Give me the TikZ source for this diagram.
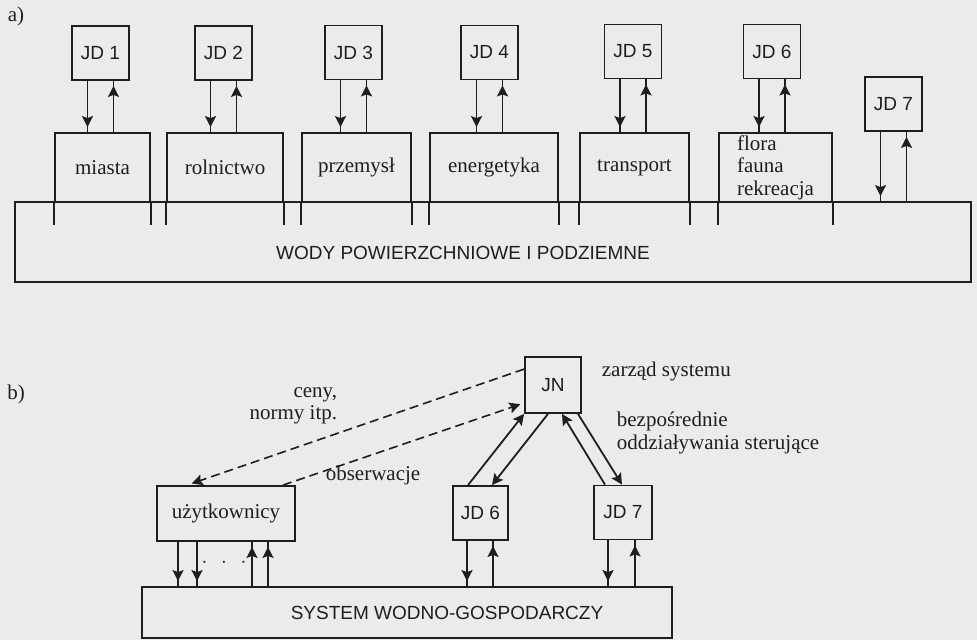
\documentclass[tikz,border=0pt]{standalone}
\usepackage{fontspec}
\setmainfont{Liberation Serif}
\setsansfont{Liberation Sans}
\usetikzlibrary{arrows.meta,decorations.markings,calc}
\definecolor{paper}{RGB}{235,235,233}
\definecolor{ink}{RGB}{30,30,30}
\newcommand{\sansfs}{\sffamily\fontsize{19}{22}\selectfont}
\newcommand{\seriffs}{\rmfamily\fontsize{21}{22.5}\selectfont}

\begin{document}
\begin{tikzpicture}[x=1pt, y=-1pt, color=ink, line width=1.8pt,
  >={Stealth[length=11pt,width=11pt,inset=2pt]},
  jd/.style={draw, inner sep=0pt, minimum width=57pt, minimum height=54pt, font=\sansfs},
  sector/.style={draw, inner sep=0pt, minimum height=69pt, font=\seriffs},
  big/.style={draw, inner sep=0pt},
  lbl/.style={inner sep=0pt, font=\seriffs},
  arr/.style={postaction={decorate}, decoration={markings, mark=at position -5pt with {\arrow{>}}}},
  dashln/.style={dash pattern=on 9pt off 5pt, line width=1.6pt}]
  \fill[paper] (0,0) rectangle (977,640);
  \useasboundingbox (0,0) rectangle (977,640);
  % a) users and their water bodies
  \node[lbl] (lbla) at (16,16) {a)};
  \node[jd] (jd1) at (100.5,53) {JD 1};
  \node[jd] (jd2) at (223.5,53) {JD 2};
  \node[jd] (jd3) at (353.5,52.5) {JD 3};
  \node[jd] (jd4) at (489.5,52.5) {JD 4};
  \node[jd] (jd5) at (633,51.5) {JD 5};
  \node[jd] (jd6) at (772,51.5) {JD 6};
  \node[jd] (jd7) at (893.5,104) {JD 7};
  \node[sector, minimum width=95pt]  (miasta) at (102.5,167.5) {miasta};
  \node[sector, minimum width=116pt] (rolnictwo) at (225,167.5) {rolnictwo};
  \node[sector, minimum width=109pt] (przemysl) at (356.5,167.5) {przemysł};
  \node[sector, minimum width=128pt] (energetyka) at (494,167.5) {energetyka};
  \node[sector, minimum width=109pt] (transport) at (634.5,167.5) {transport};
  \node[sector, minimum width=113pt, align=left] (flora) at (775.5,167.5) {flora\\fauna\\rekreacja};
  \node[big, minimum width=956pt, minimum height=80pt] (wody) at (493,242) {};
  \node[inner sep=0pt, font=\sansfs] (wodytxt) at (463,253) {WODY POWIERZCHNIOWE I PODZIEMNE};
  % sector sides run on into the water box
  \foreach \s in {miasta,rolnictwo,przemysl,energetyka,transport,flora}
    \draw (\s.south west) -- ++(0,22) (\s.south east) -- ++(0,22);
  \foreach \j/\s in {jd1/miasta,jd2/rolnictwo,jd3/przemysl,jd4/energetyka,jd5/transport,jd6/flora,jd7/wody} {
    \draw[arr] ([xshift=-13pt]\j.south) -- ([xshift=-13pt]\j.south |- \s.north);
    \draw[arr] ([xshift=13pt]\j.south |- \s.north) -- ([xshift=13pt]\j.south);
  }
  % b) system management
  \node[lbl] (lblb) at (16,394) {b)};
  \node[jd, minimum width=56pt, minimum height=56pt] (jn) at (553,385) {JN};
  \node[jd, minimum width=55pt] (jd6b) at (480.5,513) {JD 6};
  \node[jd, minimum width=58pt] (jd7b) at (623,512.5) {JD 7};
  \node[sector, minimum width=138pt, minimum height=55pt] (uzyt) at (226,513.5) {użytkownicy};
  \node[big, minimum width=530pt, minimum height=51pt] (swg) at (407,612.5) {};
  \node[inner sep=0pt, font=\sansfs] (swgtxt) at (447,613) {SYSTEM WODNO-GOSPODARCZY};
  \node[lbl, anchor=west] (zarzad) at (601,371) {zarząd systemu};
  \node[lbl, anchor=west, align=left] (bezp) at (616,433) {bezpośrednie\\oddziaływania sterujące};
  \node[lbl, anchor=east, align=right] (ceny) at (338,406) {ceny,\\normy itp.};
  \node[lbl] (obs) at (373,475) {obserwacje};
  \node[lbl] (dots) at (224,563) {$\cdot\;\,\cdot\;\,\cdot$};
  \foreach \dx in {-48,-29}
    \draw[arr] ([xshift=\dx pt]uzyt.south) -- ([xshift=\dx pt]uzyt.south |- swg.north);
  \foreach \dx in {26,42}
    \draw[arr] ([xshift=\dx pt]uzyt.south |- swg.north) -- ([xshift=\dx pt]uzyt.south);
  \draw[arr] ([xshift=-13.5pt]jd6b.south) -- ([xshift=-13.5pt]jd6b.south |- swg.north);
  \draw[arr] ([xshift=12.5pt]jd6b.south |- swg.north) -- ([xshift=12.5pt]jd6b.south);
  \draw[arr] ([xshift=-15pt]jd7b.south) -- ([xshift=-15pt]jd7b.south |- swg.north);
  \draw[arr] ([xshift=12pt]jd7b.south |- swg.north) -- ([xshift=12pt]jd7b.south);
  % direct control
  \draw[->] ([xshift=-12.5pt]jd6b.north) -- (jn.south west);
  \draw[->] ([xshift=-5pt]jn.south) -- ([xshift=11.5pt]jd6b.north);
  \draw[->] ([xshift=-18pt]jd7b.north) -- ([xshift=9pt]jn.south);
  \draw[->] ([xshift=25pt]jn.south) -- ([xshift=-1pt]jd7b.north);
  % prices and observations
  \draw[->, dashln, shorten >=5pt] ([yshift=-13pt]jn.north west) -- ([xshift=-39pt]uzyt.north);
  \draw[->, dashln, shorten >=4pt] ([xshift=57pt]uzyt.north) -- ([yshift=-18pt]jn.west);
\end{tikzpicture}
\end{document}
